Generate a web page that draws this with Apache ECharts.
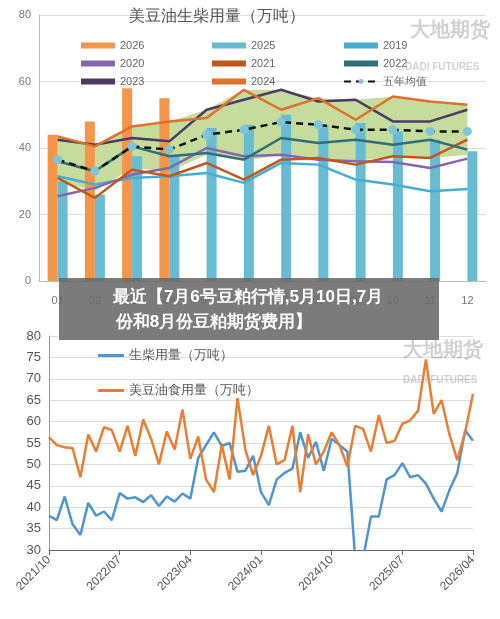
<!DOCTYPE html><html><head><meta charset="utf-8">
<script src="https://cdn.jsdelivr.net/npm/echarts@6/dist/echarts.min.js"></script>
<style>body{margin:0;background:#fff}#c{width:500px;height:619px}</style></head><body><div id="c"></div>
<script>
const months=['01','02','03','04','05','06','07','08','09','10','11','12'];
const y2026=[44,48,58,55];
const y2025=[30,26,37.5,38,46,47,50,47,47.5,45,42.5,39];
const y2019=[31.5,29,31,31.5,32.5,29.5,35.5,35,30.5,29,27,27.7];
const y2020=[25.5,28,32,34,40,37.5,38,36.5,36,35.8,34,36.8];
const y2021=[31,25,33.5,31.5,35.5,30.5,36.5,37,35,37.5,37,42.5];
const y2022=[36,33,40.5,37.5,38.5,36.5,43,41.5,42.5,41,42.5,39.5];
const y2023=[42.5,41,43,42,51.5,54.5,57.5,54,54.5,48,48,51.5];
const y2024=[43.5,40.5,46.5,48,49,57.5,51.5,55,48.5,55.5,54,53];
const avg5=[36.5,33,40.5,39.5,44,45.5,47.8,47,45.5,45.5,45,45];
const bandLow=[30,27,34,33,38,36,38,37,36,37.5,37,38];
const bandHigh=[43.5,41,46.5,48,51.5,57.5,57.5,55,54.5,55.5,54,53];
const dates=[];for(let y=2021,m=10;dates.length<55;){dates.push(y+'/'+String(m).padStart(2,'0'));m++;if(m>12){m=1;y++;}}
const biodiesel=[38,37,42.5,36,33.5,41,38,39,37,43.3,42,42.3,41.2,42.8,40.3,42.5,41.3,43.2,42,51.5,54.5,57.5,54.3,55,48.3,48.5,52,43.5,40.5,46.5,48,49,57.5,51.5,55.3,48.5,56,54.5,53,28,28,37.8,37.8,46.5,47.5,50.3,47,47.5,45.5,42,39,44,48,58,55.5];
const food=[56.3,54.5,54,53.8,47,57,53,58.7,58,53,59,52,60.5,56,50,57.7,53.5,62.8,51.3,56.5,46.5,43.5,54.5,46.5,65.5,53.5,47.5,52,59,50,51,59,43.5,57,50,53,57.5,54.5,49.5,59,58.3,53,61.5,55,55.5,59.5,60.3,62.5,74.5,61.8,65,57,51,57.5,66.5];
const ch=echarts.init(document.getElementById('c'));
const ln=(name,data,color,extra)=>Object.assign({name,type:'line',data,xAxisIndex:0,yAxisIndex:0,symbol:'none',lineStyle:{color,width:2.5},itemStyle:{color},z:5},extra||{});
const ax={axisLine:{lineStyle:{color:'#bbb'}},axisTick:{show:false},splitLine:{lineStyle:{color:'#ddd'}}};
const L=(left,names)=>({left,top:35,orient:'vertical',itemGap:7,itemWidth:34,itemHeight:6,textStyle:{fontSize:11,color:'#666'},
 data:names.map(n=>n==='2026'||n==='2025'?{name:n,icon:'rect'}:n==='五年均值'?{name:n}:{name:n,icon:'rect',itemStyle:{}})});
const legends=[L(76,['2026','2020','2023']),L(207,['2025','2021','2024']),L(338,['2019','2022','五年均值'])];
legends.forEach(l=>l.data.forEach(d=>{if(d.name!=='2026'&&d.name!=='2025'&&d.name!=='五年均值'){d.itemStyle={};}}));
ch.setOption({animation:false,
title:{text:'美豆油生柴用量（万吨）',left:124,top:4,textStyle:{fontSize:16,fontWeight:'normal',color:'#555'}},
grid:[{left:39,right:14,top:15,bottom:338},{left:49,right:27,top:336,bottom:69}],
legend:[...legends,
 {left:93,top:344,orient:'vertical',itemGap:22,itemWidth:26,itemHeight:3,icon:'rect',textStyle:{fontSize:13,color:'#555'},data:['生柴用量（万吨）','美豆油食用量（万吨）']}],
xAxis:[{type:'category',data:months,gridIndex:0,axisLine:{lineStyle:{color:'#bbb'}},axisTick:{show:false},axisLabel:{color:'#777',fontSize:11,margin:14}},
 {type:'category',data:dates,gridIndex:1,boundaryGap:false,axisLine:{lineStyle:{color:'#666'}},axisTick:{interval:8,lineStyle:{color:'#666'}},axisLabel:{interval:8,rotate:45,fontSize:12,color:'#555',margin:8}}],
yAxis:[{type:'value',gridIndex:0,min:0,max:80,interval:20,...ax,axisLine:{show:true,lineStyle:{color:'#bbb'}},axisLabel:{color:'#777',fontSize:11}},
 {type:'value',gridIndex:1,min:30,max:80,interval:5,...ax,axisLine:{show:true,lineStyle:{color:'#999'}},axisLabel:{color:'#555',fontSize:13}}],
series:[
 {name:'low',type:'line',data:bandLow,stack:'band',symbol:'none',lineStyle:{opacity:0},z:1,silent:true},
 {name:'band',type:'line',data:bandHigh.map((v,i)=>v-bandLow[i]),stack:'band',symbol:'none',lineStyle:{opacity:0},areaStyle:{color:'#c5dc9c',opacity:1},z:1,silent:true},
 {name:'2026',type:'bar',data:y2026,barWidth:10,barGap:'0%',itemStyle:{color:'#f5954a'},z:3},
 {name:'2025',type:'bar',data:y2025,barWidth:10,barGap:'0%',itemStyle:{color:'#67bcd3'},z:3},
 ln('2019',y2019,'#46aed0'),ln('2020',y2020,'#8466b0'),ln('2021',y2021,'#c0581c'),ln('2022',y2022,'#2f6f78'),
 ln('2023',y2023,'#4b3a66'),ln('2024',y2024,'#e0702a'),
 ln('五年均值',avg5,'#111',{symbol:'circle',symbolSize:9,itemStyle:{color:'#7cc6dc'},lineStyle:{color:'#111',width:2.5,type:[7,5]},z:6}),
 {name:'生柴用量（万吨）',type:'line',data:biodiesel,xAxisIndex:1,yAxisIndex:1,symbol:'none',lineStyle:{color:'#4d96d4',width:2.5},itemStyle:{color:'#4d96d4'}},
 {name:'美豆油食用量（万吨）',type:'line',data:food,xAxisIndex:1,yAxisIndex:1,symbol:'none',lineStyle:{color:'#ec7c30',width:2.5},itemStyle:{color:'#ec7c30'}}
],
graphic:[
 {type:'text',left:410,top:20,style:{text:'大地期货',fontSize:20,fontWeight:'bold',fill:'rgba(150,150,150,0.45)'},z:10},
 {type:'text',left:405,top:62,style:{text:'DADI FUTURES',fontSize:10,fontWeight:'bold',fill:'rgba(150,150,150,0.45)'},z:10},
 {type:'text',left:403,top:340,style:{text:'大地期货',fontSize:20,fontWeight:'bold',fill:'rgba(150,150,150,0.45)'},z:10},
 {type:'text',left:403,top:375,style:{text:'DADI FUTURES',fontSize:10,fontWeight:'bold',fill:'rgba(150,150,150,0.45)'},z:10},
 {type:'rect',shape:{x:59,y:278,width:380,height:62},style:{fill:'rgba(105,105,105,0.88)'},z:20},
 {type:'text',x:248,y:297,style:{text:'最近【7月6号豆粕行情,5月10日,7月',fontSize:17,fontWeight:'bold',fill:'#fff',align:'center',verticalAlign:'middle'},z:21},
 {type:'text',x:214,y:322,style:{text:'份和8月份豆粕期货费用】',fontSize:17,fontWeight:'bold',fill:'#fff',align:'center',verticalAlign:'middle'},z:21}
]});
</script></body></html>
